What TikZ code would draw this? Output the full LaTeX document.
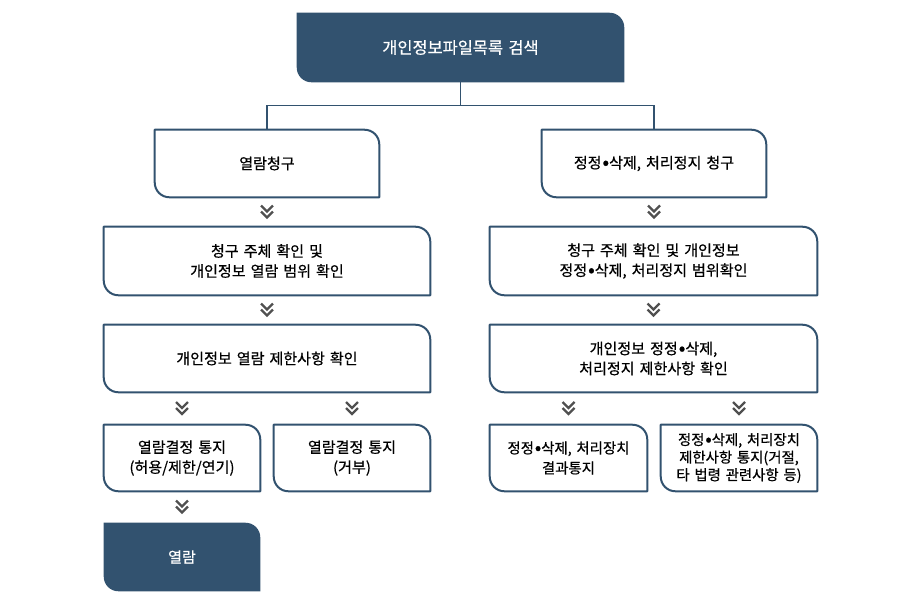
\documentclass[tikz,border=0pt]{standalone}
\usepackage{fontspec}
\setmainfont{Noto Sans CJK KR}[FakeBold=0.6]
\usetikzlibrary{calc,backgrounds}
\definecolor{navy}{HTML}{32526F}
\definecolor{chevgray}{HTML}{505050}
\definecolor{txt}{HTML}{000000}
\def\rr{11pt}
\newcommand\shapebox[2]{%
  \begin{pgfonlayer}{background}
  \path[#2] (#1.north west) -- ([xshift=-\rr]#1.north east) to[out=0,in=90] ([yshift=-\rr]#1.north east)
     -- (#1.south east) -- ([xshift=\rr]#1.south west) to[out=180,in=-90] ([yshift=\rr]#1.south west) -- cycle;
  \end{pgfonlayer}}
\newcommand\widesp{\spaceskip=0.33em\relax}
\newcommand\mdot{\hspace{0.06em}\raisebox{-0.05em}{\scalebox{1.3}{•}}}
\tikzset{
  bx/.style 2 args={minimum width=#1, minimum height=#2, inner sep=0pt, align=center,
     text=txt, font=\fontsize{11.3}{15}\selectfont, execute at begin node=\widesp},
  outline/.style={draw=navy, line width=1.5pt, fill=white, line join=round},
  darkfill/.style={fill=navy},
  conn/.style={draw=navy, line width=0.8pt},
  chevline/.style={draw=chevgray, line width=1.8pt, line join=miter, line cap=butt},
  chev/.pic={\path[chevline] (-6,-6.5)--(0,-0.5)--(6,-6.5); \path[chevline] (-6,-0.5)--(0,5.5)--(6,-0.5);}
}
\begin{document}
\begin{tikzpicture}[x=0.75pt,y=-0.75pt]
\useasboundingbox (0,0) rectangle (920,604);
% nodes
\node[bx={245.25pt}{51.75pt}, text=white, font=\fontsize{12.3}{15}\selectfont] (top) at (460.5,47.5) {개인정보파일목록 검색};
\node[bx={168pt}{50.25pt}] (L1) at (267,163.5) {열람청구};
\node[bx={168pt}{50.25pt}] (R1) at (654,163.5) {정정\mdot 삭제, 처리정지 청구};
\node[bx={244.5pt}{51pt}] (L2) at (267,261) {청구 주체 확인 및\\개인정보 열람 범위 확인};
\node[bx={245.25pt}{51pt}] (R2) at (653.5,261) {청구 주체 확인 및 개인정보\\정정\mdot 삭제, 처리정지 범위확인};
\node[bx={244.5pt}{50.25pt}] (L3) at (267,358.5) {개인정보 열람 제한사항 확인};
\node[bx={245.25pt}{50.25pt}] (R3) at (653.5,358.5) {개인정보 정정\mdot 삭제,\\처리정지 제한사항 확인};
\node[bx={117pt}{49.5pt}] (L4a) at (182,458) {열람결정 통지\\(허용/제한/연기)};
\node[bx={117pt}{49.5pt}] (L4b) at (352,458) {열람결정 통지\\(거부)};
\node[bx={117.75pt}{49.5pt}, font=\fontsize{10.8}{15}\selectfont] (R4a) at (568.5,458) {정정\mdot 삭제, 처리장치\\결과통지};
\node[bx={117pt}{49.5pt}, font=\fontsize{10.8}{13.2}\selectfont] (R4b) at (739,458) {정정\mdot 삭제, 처리장치\\제한사항 통지(거절,\\타 법령 관련사항 등)};
\node[bx={117pt}{51pt}, text=white] (B) at (182,557) {열람};
% outlines
\shapebox{top}{darkfill}
\shapebox{B}{darkfill}
\foreach \n in {L1,R1,L2,R2,L3,R3,L4a,L4b,R4a,R4b}{\shapebox{\n}{outline}}
% connectors
\coordinate (J) at ($(top.south)+(0,-17.5pt)$);
\path[conn] (top.south) -- (J) -| (L1.north);
\path[conn] (J) -| (R1.north);
% chevrons
\pic at ($(L1.south)!0.5!(L2.north)$) {chev};
\pic at ($(R1.south)!0.5!(R1.south|-R2.north)$) {chev};
\pic at ($(L2.south)!0.5!(L3.north)$) {chev};
\pic at ($(R2.south)!0.5!(R3.north)$) {chev};
\pic at ($(L4a.north)!0.5!(L4a.north|-L3.south)$) {chev};
\pic at ($(L4b.north)!0.5!(L4b.north|-L3.south)$) {chev};
\pic at ($(R4a.north)!0.5!(R4a.north|-R3.south)$) {chev};
\pic at ($(R4b.north)!0.5!(R4b.north|-R3.south)$) {chev};
\pic at ($(L4a.south)!0.5!(B.north)$) {chev};
\end{tikzpicture}
\end{document}
